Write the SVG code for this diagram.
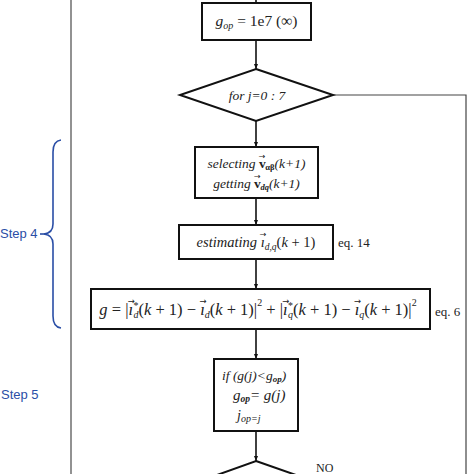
<svg xmlns="http://www.w3.org/2000/svg" width="474" height="474" viewBox="0 0 474 474">
<defs>
<marker id="ah" viewBox="0 0 10 10" refX="10" refY="5" markerWidth="5" markerHeight="5" orient="auto" markerUnits="userSpaceOnUse">
<path d="M0,1 L10,5 L0,9 z" fill="#111"/>
</marker>
<style>
.box{fill:#fff;stroke:#111;stroke-width:2}
.ln{fill:none;stroke:#111;stroke-width:1.6}
.thin{fill:none;stroke:#444;stroke-width:1.2}
.t{font-family:"Liberation Serif","DejaVu Serif",serif;fill:#222;font-style:italic}
.n{font-family:"Liberation Serif","DejaVu Serif",serif;fill:#222}
.ar{font-family:"DejaVu Sans",sans-serif;font-style:normal;font-weight:normal}
.blue{font-family:"Liberation Sans","Open Sans",sans-serif;fill:#2a4ea6;font-size:13px}
</style>
</defs>
<rect width="474" height="474" fill="#fff"/>
<g id="frame">
<line x1="71" y1="0" x2="71" y2="474" stroke="#777" stroke-width="1.6"/>
</g>
<g id="connectors">
<line class="ln" x1="256" y1="0" x2="256" y2="3"/>
<line class="ln" x1="256" y1="40" x2="256" y2="69" marker-end="url(#ah)"/>
<line class="ln" x1="256" y1="121" x2="256" y2="147" marker-end="url(#ah)"/>
<line class="ln" x1="256" y1="198" x2="256" y2="225" marker-end="url(#ah)"/>
<line class="ln" x1="256" y1="259" x2="256" y2="289" marker-end="url(#ah)"/>
<line class="ln" x1="256" y1="329" x2="256" y2="359" marker-end="url(#ah)"/>
<line class="ln" x1="256" y1="431" x2="256" y2="461" marker-end="url(#ah)"/>
<polyline class="thin" points="333,95 466,95 466,474"/>
</g>
<g id="init">
<rect class="box" x="202" y="3" width="109" height="37"/>
<text class="n" x="256.5" y="26" font-size="15.5" text-anchor="middle"><tspan font-style="italic">g</tspan><tspan font-style="italic" font-size="10" dy="3">op</tspan><tspan dy="-3"> = 1e7 (∞)</tspan></text>
</g>
<g id="loop">
<polygon class="box" points="256,69 333,95 256,121 180,95"/>
<text class="t" x="257" y="100" font-size="13.5" text-anchor="middle">for j=0 : 7</text>
</g>
<g id="select">
<rect class="box" x="195" y="147" width="123" height="51"/>
<text class="t" x="256.5" y="168" font-size="13.5" text-anchor="middle">selecting <tspan font-style="normal" font-weight="bold">v</tspan><tspan class="ar" font-size="8" dx="-6.8" dy="-9.5">→</tspan><tspan font-size="8.5" dx="-0.2" dy="11.5" font-weight="bold" font-style="normal">αβ</tspan><tspan dy="-2">(k+1)</tspan></text>
<text class="t" x="256.5" y="188" font-size="13.5" text-anchor="middle">getting <tspan font-style="normal" font-weight="bold">v</tspan><tspan class="ar" font-size="8" dx="-6.8" dy="-9.5">→</tspan><tspan font-size="8.5" dx="-0.2" dy="11.5" font-weight="bold">dq</tspan><tspan dy="-2">(k+1)</tspan></text>
</g>
<g id="estimate">
<rect class="box" x="179" y="225" width="154" height="34"/>
<text class="t" x="256" y="247" font-size="14.5" text-anchor="middle">estimating ı<tspan class="ar" font-size="8" dx="-5" dy="-10">→</tspan><tspan font-size="9.5" dx="-1.7" dy="13">d,q</tspan><tspan dy="-3" font-style="normal">(</tspan>k<tspan font-style="normal"> + 1)</tspan></text>
<text class="n" x="338" y="247" font-size="13">eq. 14</text>
</g>
<g id="cost">
<rect class="box" x="91" y="289" width="339" height="40"/>
<text class="n" x="258" y="315" font-size="16.5" text-anchor="middle"><tspan font-style="italic">g</tspan> = |<tspan font-style="italic">ı</tspan><tspan class="ar" font-size="8.5" dx="-5.5" dy="-11">→</tspan><tspan font-style="italic" font-size="10" dx="-1.7" dy="5">*</tspan><tspan font-style="italic" font-size="10" dx="-4.5" dy="9">d</tspan><tspan dy="-3">(</tspan><tspan font-style="italic">k</tspan> + 1) − <tspan font-style="italic">ı</tspan><tspan class="ar" font-size="8.5" dx="-5.5" dy="-11">→</tspan><tspan font-style="italic" font-size="10" dx="-1.7" dy="14">d</tspan><tspan dy="-3">(</tspan><tspan font-style="italic">k</tspan> + 1)|<tspan font-size="10" dy="-9">2</tspan><tspan dy="9"> + |</tspan><tspan font-style="italic">ı</tspan><tspan class="ar" font-size="8.5" dx="-5.5" dy="-11">→</tspan><tspan font-style="italic" font-size="10" dx="-1.7" dy="5">*</tspan><tspan font-style="italic" font-size="10" dx="-4.5" dy="9">q</tspan><tspan dy="-3">(</tspan><tspan font-style="italic">k</tspan> + 1) − <tspan font-style="italic">ı</tspan><tspan class="ar" font-size="8.5" dx="-5.5" dy="-11">→</tspan><tspan font-style="italic" font-size="10" dx="-1.7" dy="14">q</tspan><tspan dy="-3">(</tspan><tspan font-style="italic">k</tspan> + 1)|<tspan font-size="10" dy="-9">2</tspan></text>
<text class="n" x="435" y="316" font-size="13">eq. 6</text>
</g>
<g id="compare">
<rect class="box" x="214" y="359" width="84" height="72"/>
<text class="t" x="222" y="380" font-size="13.5">if (g(j)&lt;g<tspan font-size="9" dy="2" font-weight="bold">op</tspan><tspan dy="-2">)</tspan></text>
<text class="t" x="233" y="400" font-size="15">g<tspan font-size="9.5" dy="2" font-weight="bold">op</tspan><tspan dy="-2">= g(j)</tspan></text>
<text class="t" x="237" y="420" font-size="14">j<tspan font-size="10" dy="2">op=j</tspan></text>
</g>
<g id="end-check">
<polygon class="box" points="256,461 296,475 256,489 217,475"/>
<text class="n" x="316" y="472" font-size="12">NO</text>
</g>
<g id="step4">
<path d="M61,140 Q53,141 53,152 L53,224 Q53,233 44,234 Q53,235 53,244 L53,316 Q53,327 61,328" fill="none" stroke="#2a4ea6" stroke-width="1.6"/>
<line x1="40" y1="234" x2="45" y2="234" stroke="#2a4ea6" stroke-width="1.6"/>
<text class="blue" x="0" y="238">Step 4</text>
</g>
<g id="step5">
<text class="blue" x="1" y="399">Step 5</text>
</g>
</svg>
